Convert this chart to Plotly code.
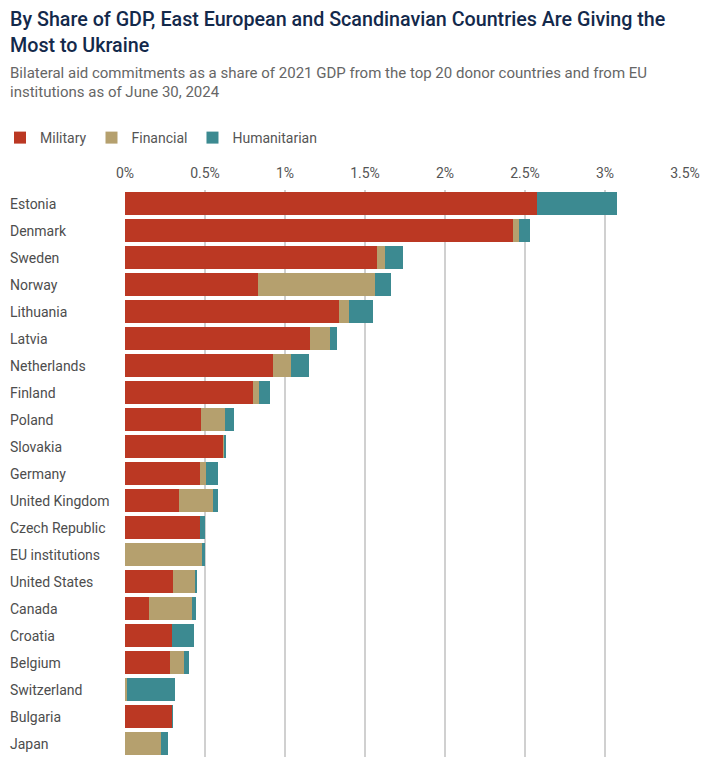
import plotly.graph_objects as go

countries = ["Estonia", "Denmark", "Sweden", "Norway", "Lithuania", "Latvia", "Netherlands",
             "Finland", "Poland", "Slovakia", "Germany", "United Kingdom", "Czech Republic",
             "EU institutions", "United States", "Canada", "Croatia", "Belgium", "Switzerland",
             "Bulgaria", "Japan"]
military = [2.575, 2.425, 1.575, 0.831, 1.338, 1.156, 0.925, 0.800, 0.475, 0.618, 0.469, 0.338,
            0.469, 0.0, 0.300, 0.150, 0.294, 0.281, 0.0, 0.294, 0.0]
financial = [0.0, 0.038, 0.050, 0.731, 0.062, 0.125, 0.112, 0.038, 0.150, 0.006, 0.038, 0.212,
             0.0, 0.481, 0.138, 0.269, 0.0, 0.088, 0.012, 0.0, 0.225]
humanitarian = [0.500, 0.069, 0.112, 0.100, 0.150, 0.044, 0.112, 0.069, 0.056, 0.006, 0.075, 0.031,
                0.031, 0.019, 0.012, 0.025, 0.138, 0.031, 0.300, 0.006, 0.044]
tick_vals = [0, 0.5, 1, 1.5, 2, 2.5, 3, 3.5]
tick_text = ["0%", "0.5%", "1%", "1.5%", "2%", "2.5%", "3%", "3.5%"]
title_lines = ["By Share of GDP, East European and Scandinavian Countries Are Giving the",
               "Most to Ukraine"]
subtitle_lines = ["Bilateral aid commitments as a share of 2021 GDP from the top 20 donor countries and from EU",
                  "institutions as of June 30, 2024"]

colors = {"Military": "#BB3823", "Financial": "#B5A06E", "Humanitarian": "#3C8A91"}
FONT = "Roboto, Arial, sans-serif"

W, H = 712, 767
ML, MR, MT, MB = 125, 27, 190, 10
PW, PH = W - ML - MR, H - MT - MB

fig = go.Figure()
for name, vals in [("Military", military), ("Financial", financial), ("Humanitarian", humanitarian)]:
    fig.add_trace(go.Bar(y=countries, x=vals, name=name, orientation="h",
                         marker=dict(color=colors[name], line=dict(width=0))))

def cy(p):
    return 1 - p / H

annotations = []
for c in countries:
    annotations.append(dict(x=(10 - ML) / PW, xref="paper", y=c, yref="y", text=c, showarrow=False,
                            xanchor="left", yanchor="middle", xshift=-2,
                            font=dict(family=FONT, size=14, color="#4d4d4d")))
for line, yc in zip(title_lines, [20, 45]):
    annotations.append(dict(x=(10 - ML) / PW, xref="paper", y=(H - MB - yc) / PH, yref="paper",
                            text=line, showarrow=False, xanchor="left", yanchor="middle", xshift=-2,
                            font=dict(family=FONT, size=19.7, color="#13294B", weight=500)))
for line, yc in zip(subtitle_lines, [73, 92]):
    annotations.append(dict(x=(10 - ML) / PW, xref="paper", y=(H - MB - yc) / PH, yref="paper",
                            text=line, showarrow=False, xanchor="left", yanchor="middle", xshift=-2,
                            font=dict(family=FONT, size=15, color="#666666")))

fig.update_layout(
    width=W, height=H,
    margin=dict(l=ML, r=MR, t=MT, b=MB, autoexpand=False),
    paper_bgcolor="white", plot_bgcolor="white",
    barmode="stack", bargap=0.15,
    font=dict(family=FONT, color="#555555"),
    showlegend=True,
    legend=dict(orientation="h", xref="container", yref="container", x=-0.006, xanchor="left",
                y=cy(138), yanchor="middle",
                font=dict(family=FONT, size=14, color="#555555"), traceorder="normal",
                itemwidth=30, bgcolor="rgba(0,0,0,0)"),
    annotations=annotations,
    xaxis=dict(side="top", range=[0, 3.5], tickvals=tick_vals, ticktext=tick_text,
               showgrid=True, gridcolor="#d0d0d0", gridwidth=1.5, zeroline=False,
               showline=False, ticks="", ticklabelstandoff=8,
               tickfont=dict(family=FONT, size=14, color="#555555"),
               fixedrange=True),
    yaxis=dict(categoryorder="array", categoryarray=countries, autorange="reversed",
               showticklabels=False, showgrid=False, zeroline=False, ticks="", fixedrange=True),
)

fig.write_html("out.html", config={"displayModeBar": False},
               post_script="document.body.style.margin='0';document.body.style.overflow='hidden';")
